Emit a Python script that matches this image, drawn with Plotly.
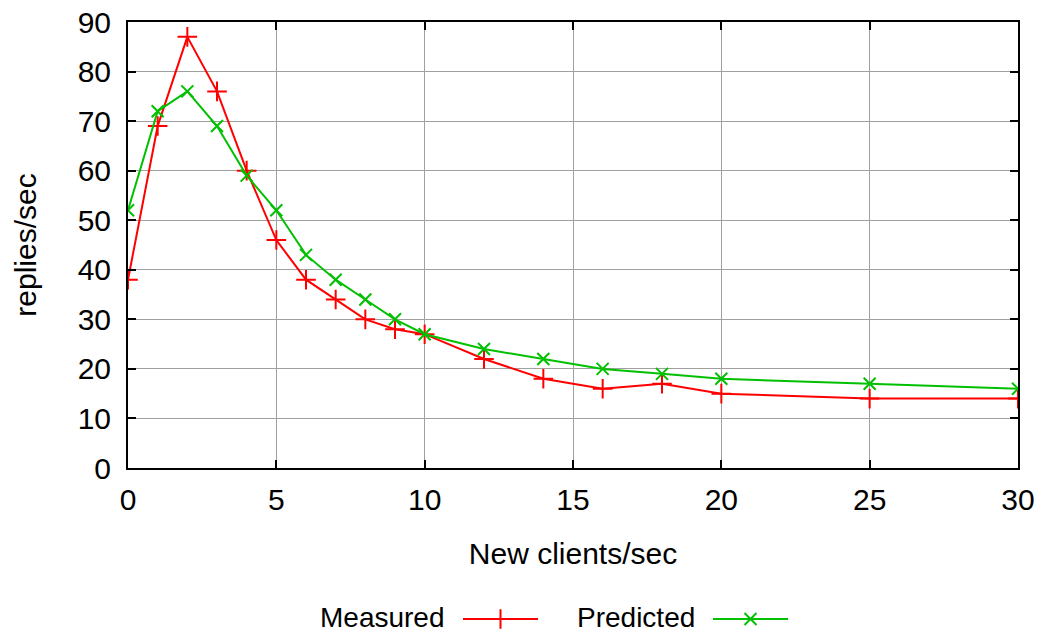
import plotly.graph_objects as go

clients = [0, 1, 2, 3, 4, 5, 6, 7, 8, 9, 10, 12, 14, 16, 18, 20, 25, 30]
measured = [38, 69, 87, 76, 60, 46, 38, 34, 30, 28, 27, 22, 18, 16, 17, 15, 14, 14]
predicted = [52, 72, 76, 69, 59, 52, 43, 38, 34, 30, 27, 24, 22, 20, 19, 18, 17, 16]
series_names = ["Measured", "Predicted"]
x_ticks = [0, 5, 10, 15, 20, 25, 30]
y_ticks = [0, 10, 20, 30, 40, 50, 60, 70, 80, 90]

# the page's body margin is removed below, so layout works in page pixels
W, H = 1050, 634
RED = "#ff0000"
GREEN = "#00c000"
FAMILY = "Liberation Sans, Arial, sans-serif"
FONT = dict(family=FAMILY, size=30, color="black")
LEG_FONT = dict(family=FAMILY, size=28, color="black")

fig = go.Figure()
fig.add_trace(go.Scatter(
    x=clients, y=measured, mode="lines+markers", name=series_names[0],
    line=dict(color=RED, width=2),
    marker=dict(symbol="cross-thin", size=14, color=RED, line=dict(color=RED, width=2)),
))
fig.add_trace(go.Scatter(
    x=clients, y=predicted, mode="lines+markers", name=series_names[1],
    line=dict(color=GREEN, width=2),
    marker=dict(symbol="x-thin", size=12, color=GREEN, line=dict(color=GREEN, width=2)),
))

# custom legend (text then sample) on a page-pixel overlay axis
leg_y = 619
legend_items = [
    (series_names[0], 447, 463, 538, RED, "cross-thin", 14),
    (series_names[1], 697, 713, 788, GREEN, "x-thin", 12),
]
for name, tx, x0, x1, col, sym, sz in legend_items:
    fig.add_trace(go.Scatter(
        x=[x0, x1], y=[leg_y, leg_y], xaxis="x2", yaxis="y2", mode="lines",
        line=dict(color=col, width=2), showlegend=False, hoverinfo="skip"))
    fig.add_trace(go.Scatter(
        x=[(x0 + x1) / 2], y=[leg_y], xaxis="x2", yaxis="y2", mode="markers",
        marker=dict(symbol=sym, size=sz, color=col, line=dict(color=col, width=2)),
        showlegend=False, hoverinfo="skip"))
    fig.add_annotation(x=tx, y=leg_y - 2, xref="x2", yref="y2", text=name,
                       showarrow=False, xanchor="right", yanchor="middle", font=LEG_FONT)

x_dom = [128 / W, 1018 / W]
y_dom = [(H - 468) / H, (H - 22) / H]

axis_common = dict(
    showgrid=True, gridcolor="#a0a0a0", gridwidth=1,
    showline=True, linecolor="black", linewidth=2, mirror="allticks",
    ticks="inside", ticklen=8, tickwidth=1.5, tickcolor="black",
    zeroline=False, tickfont=FONT, automargin=False, ticklabeloverflow="allow",
)

fig.update_layout(
    width=W, height=H,
    margin=dict(l=0, r=0, t=0, b=0),
    paper_bgcolor="white", plot_bgcolor="rgba(0,0,0,0)",
    showlegend=False,
    font=FONT,
    xaxis=dict(domain=x_dom, range=[0, 30], tickvals=x_ticks, ticklabelstandoff=4,
               title=dict(text="New clients/sec", font=FONT, standoff=28), **axis_common),
    yaxis=dict(domain=y_dom, range=[0, 90], tickvals=y_ticks, ticklabelstandoff=9,
               title=dict(text="replies/sec", font=FONT, standoff=32), **axis_common),
    xaxis2=dict(domain=[0, 1], range=[0, W], visible=False, anchor="y2"),
    yaxis2=dict(domain=[0, 1], range=[H, 0], visible=False, anchor="x2"),
)

fig.write_html(
    "out.html",
    config={"displayModeBar": False},
    post_script="document.body.style.margin='0';document.body.style.overflow='hidden';",
)
